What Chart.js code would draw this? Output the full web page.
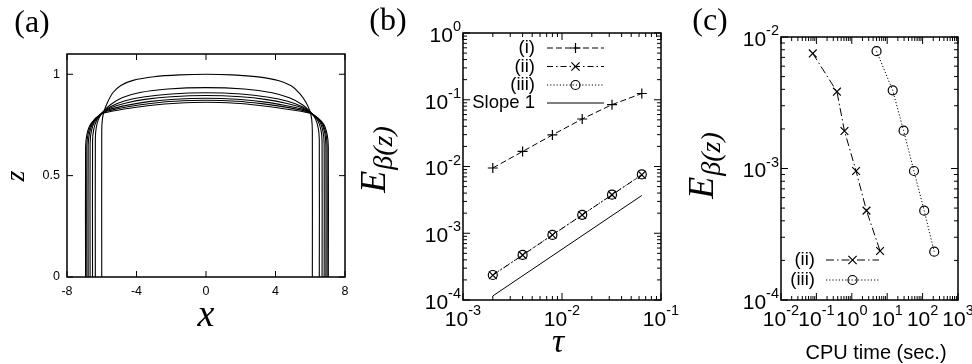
<!DOCTYPE html>
<html>
<head>
<meta charset="utf-8">
<script src="https://cdn.jsdelivr.net/npm/chart.js@4.4.0/dist/chart.umd.min.js"></script>
<style>
body{margin:0;background:#fff;}
#wrap{position:relative;width:972px;height:364px;}
canvas{position:absolute;left:0;top:0;}
</style>
</head>
<body>
<div id="wrap">
<canvas id="pa" width="972" height="364"></canvas>
<canvas id="pb" width="972" height="364"></canvas>
<canvas id="pc" width="972" height="364"></canvas>
</div>
<script>
// (a) interface profiles, [x, z] pairs
const prof1 = [[-6.0,0],[-6.0,0.72],[-5.96,0.78],[-5.86,0.82],[-5.65,0.865],[-5.35,0.91],[-4.9,0.945],[-4.2,0.97],[-3,0.988],[-1.5,0.997],[0,1.0],[1.5,0.997],[3,0.987],[4.2,0.968],[4.9,0.943],[5.4,0.905],[5.75,0.862],[5.97,0.82],[6.08,0.78],[6.12,0.72],[6.12,0]]
const prof2 = [[-6.37,0],[-6.37,0.68],[-6.32,0.735],[-6.18,0.78],[-5.92,0.815],[-5.5,0.85],[-4.8,0.885],[-3.8,0.91],[-2.2,0.927],[0,0.934],[2.2,0.927],[3.8,0.909],[4.8,0.884],[5.55,0.85],[6.0,0.815],[6.3,0.78],[6.46,0.735],[6.52,0.68],[6.52,0]]
const prof3 = [[-6.53,0],[-6.53,0.67],[-6.47,0.725],[-6.3,0.772],[-5.95,0.812],[-5.5,0.84],[-4.7,0.868],[-3.6,0.888],[-2,0.903],[0,0.909],[2,0.903],[3.6,0.887],[4.7,0.867],[5.55,0.84],[6.02,0.812],[6.43,0.772],[6.62,0.725],[6.68,0.67],[6.68,0]]
const prof4 = [[-6.67,0],[-6.67,0.66],[-6.6,0.718],[-6.4,0.768],[-5.97,0.81],[-5.5,0.834],[-4.6,0.858],[-3.5,0.876],[-2,0.889],[0,0.895],[2,0.889],[3.5,0.875],[4.6,0.857],[5.55,0.834],[6.04,0.81],[6.53,0.768],[6.73,0.718],[6.8,0.66],[6.8,0]]
const prof5 = [[-6.78,0],[-6.78,0.65],[-6.7,0.712],[-6.48,0.764],[-6.0,0.808],[-5.5,0.828],[-4.5,0.848],[-3.3,0.865],[-1.8,0.877],[0,0.882],[1.8,0.877],[3.3,0.864],[4.5,0.847],[5.55,0.828],[6.06,0.808],[6.61,0.764],[6.83,0.712],[6.9,0.65],[6.9,0]]
const prof6 = [[-6.86,0],[-6.86,0.645],[-6.78,0.708],[-6.55,0.76],[-6.02,0.806],[-5.5,0.822],[-4.5,0.84],[-3.2,0.856],[-1.8,0.867],[0,0.872],[1.8,0.867],[3.2,0.855],[4.5,0.839],[5.55,0.822],[6.08,0.806],[6.68,0.76],[6.9,0.708],[6.97,0.645],[6.97,0]]
const prof7 = [[-6.93,0],[-6.93,0.64],[-6.85,0.705],[-6.62,0.757],[-6.04,0.804],[-5.5,0.816],[-4.4,0.832],[-3.1,0.847],[-1.7,0.857],[0,0.862],[1.7,0.857],[3.1,0.846],[4.4,0.831],[5.55,0.816],[6.1,0.804],[6.75,0.757],[6.97,0.705],[7.04,0.64],[7.04,0]]
const profiles = [prof1, prof2, prof3, prof4, prof5, prof6, prof7]
const aXTicks = [-8, -4, 0, 4, 8]
const aYTicks = [0, 0.5, 1]

// (b) error against time step
const tau = [0.002, 0.004, 0.008, 0.016, 0.032, 0.064]
const errI = [0.0095, 0.0168, 0.0297, 0.0515, 0.0845, 0.124]
const errII = [0.000235, 0.00047, 0.00094, 0.00188, 0.00376, 0.0075]
const errIII = [0.000237, 0.000473, 0.000945, 0.00189, 0.00378, 0.0076]
const slopeX = [0.002, 0.064]
const slopeY = [0.000115, 0.00368]
const bLabels = ['(i)', '(ii)', '(iii)', 'Slope 1']

// (c) error against cpu time (largest tau first)
const cpuII = [0.079, 0.38, 0.62, 1.32, 2.6, 6.3]
const cpuIII = [5.0, 14.3, 29, 57, 111, 213]
const cErrII = [0.0075, 0.00384, 0.00193, 0.000957, 0.000478, 0.000236]
const cErrIII = [0.0078, 0.00393, 0.00194, 0.000957, 0.000478, 0.000233]
const cLabels = ['(ii)', '(iii)']

const SANS = '"Liberation Sans", Arial, sans-serif'
const SERIF = '"Liberation Serif", "Times New Roman", serif'

function pts(xs, ys) { return xs.map((x, i) => ({x: x, y: ys[i]})) }

function logMinor(a, b) {
	let out = []
	for (let d = a; d < b; d++)
		for (let m = 2; m < 10; m++) out.push(m * Math.pow(10, d))
	return out
}
function decades(a, b) {
	let out = []
	for (let d = a; d <= b; d++) out.push(Math.pow(10, d))
	return out
}

// frame plus inward ticks on all four sides (gnuplot look)
function frame(chart, xs, ys, xm, ym, len, mlen) {
	const ctx = chart.ctx, a = chart.chartArea
	const sx = chart.scales.x, sy = chart.scales.y
	ctx.save()
	ctx.strokeStyle = '#000'
	ctx.lineWidth = 1
	ctx.beginPath()
	const xt = (list, l) => list.forEach(v => {
		const p = sx.getPixelForValue(v)
		ctx.moveTo(p, a.bottom); ctx.lineTo(p, a.bottom - l)
		ctx.moveTo(p, a.top); ctx.lineTo(p, a.top + l)
	})
	const yt = (list, l) => list.forEach(v => {
		const p = sy.getPixelForValue(v)
		ctx.moveTo(a.left, p); ctx.lineTo(a.left + l, p)
		ctx.moveTo(a.right, p); ctx.lineTo(a.right - l, p)
	})
	xt(xs, len); yt(ys, len); xt(xm, mlen); yt(ym, mlen)
	ctx.stroke()
	ctx.lineWidth = 1.5
	ctx.strokeRect(a.left, a.top, a.right - a.left, a.bottom - a.top)
	ctx.restore()
}

// "10" with a raised exponent
function powText(ctx, v, x, y, align) {
	const e = String(Math.round(Math.log10(v)))
	ctx.save()
	ctx.fillStyle = '#000'
	ctx.textBaseline = 'middle'
	ctx.textAlign = 'left'
	ctx.font = '21px ' + SANS
	const w1 = ctx.measureText('10').width
	ctx.font = '14.5px ' + SANS
	const w2 = ctx.measureText(e).width
	let x0 = align === 'right' ? x - w1 - w2 : x - (w1 + w2) / 2
	ctx.font = '21px ' + SANS
	ctx.fillText('10', x0, y + 3)
	ctx.font = '14.5px ' + SANS
	ctx.fillText(e, x0 + w1, y - 6)
	ctx.restore()
}

function text(ctx, s, x, y, font, align) {
	ctx.save()
	ctx.fillStyle = '#000'
	ctx.font = font
	ctx.textAlign = align || 'center'
	ctx.textBaseline = 'middle'
	ctx.fillText(s, x, y)
	ctx.restore()
}

// E_beta(z), rotated
function ebTitle(ctx, x, y) {
	ctx.save()
	ctx.translate(x, y)
	ctx.rotate(-Math.PI / 2)
	ctx.fillStyle = '#000'
	ctx.textBaseline = 'alphabetic'
	ctx.font = 'italic 36px ' + SERIF
	const w1 = ctx.measureText('E').width
	ctx.font = 'italic 28px ' + SERIF
	const w2 = ctx.measureText('β(z)').width
	const x0 = -(w1 + w2) / 2
	ctx.font = 'italic 36px ' + SERIF
	ctx.fillText('E', x0, 10)
	ctx.font = 'italic 28px ' + SERIF
	ctx.fillText('β(z)', x0 + w1 + 1, 17)
	ctx.restore()
}

function marker(ctx, style, x, y, r) {
	ctx.beginPath()
	if (style === 'cross') {
		ctx.moveTo(x - r, y); ctx.lineTo(x + r, y); ctx.moveTo(x, y - r); ctx.lineTo(x, y + r)
	} else if (style === 'crossRot') {
		const d = r * 0.75
		ctx.moveTo(x - d, y - d); ctx.lineTo(x + d, y + d); ctx.moveTo(x - d, y + d); ctx.lineTo(x + d, y - d)
	} else {
		ctx.arc(x, y, r, 0, Math.PI * 2)
	}
	ctx.stroke()
}

function legendRow(ctx, ds, label, y, tx, x0, x1) {
	text(ctx, label, tx, y, '18.5px ' + SANS, 'right')
	ctx.save()
	ctx.strokeStyle = '#000'
	ctx.lineWidth = ds.borderWidth
	ctx.setLineDash(ds.borderDash || [])
	ctx.beginPath(); ctx.moveTo(x0, y); ctx.lineTo(x1, y); ctx.stroke()
	ctx.setLineDash([])
	if (ds.pointRadius > 0) {
		ctx.lineWidth = ds.pointBorderWidth
		marker(ctx, ds.pointStyle, (x0 + x1) / 2, y, ds.pointRadius)
	}
	ctx.restore()
}

const lineI = {borderColor: '#000', borderWidth: 1, borderDash: [6, 3], pointStyle: 'cross', pointRadius: 5, pointBorderWidth: 1.2}
const lineII = {borderColor: '#000', borderWidth: 1, borderDash: [6, 3, 1.5, 3], pointStyle: 'crossRot', pointRadius: 5.5, pointBorderWidth: 1.2}
const lineIII = {borderColor: '#000', borderWidth: 1, borderDash: [1.2, 2], pointStyle: 'circle', pointRadius: 4.5, pointBorderWidth: 1.2}
const lineSlope = {borderColor: '#000', borderWidth: 1, pointRadius: 0}

function common(pad) {
	return {
		responsive: false,
		animation: false,
		layout: {padding: pad},
		plugins: {legend: {display: false}, tooltip: {enabled: false}},
		elements: {point: {pointBackgroundColor: 'rgba(0,0,0,0)', pointBorderColor: '#000'}}
	}
}

// panel (a)
new Chart(document.getElementById('pa'), {
	type: 'scatter',
	data: {
		datasets: profiles.map(p => ({
			data: p.map(q => ({x: q[0], y: q[1]})),
			showLine: true, borderColor: '#000', borderWidth: 1.1, pointRadius: 0, tension: 0.3
		}))
	},
	options: Object.assign(common({left: 67, top: 54, right: 627, bottom: 87}), {
		scales: {
			x: {type: 'linear', min: -8, max: 8, display: false},
			y: {type: 'linear', min: 0, max: 1.1, display: false}
		}
	}),
	plugins: [{
		id: 'decoA',
		afterDraw(chart) {
			const ctx = chart.ctx, a = chart.chartArea
			frame(chart, aXTicks, aYTicks, [], [], 6, 0)
			aXTicks.forEach(v => text(ctx, String(v), chart.scales.x.getPixelForValue(v), a.bottom + 15, '12.5px ' + SANS))
			aYTicks.forEach(v => text(ctx, String(v), a.left - 7, chart.scales.y.getPixelForValue(v), '12.5px ' + SANS, 'right'))
			text(ctx, '(a)', 32, 24, '32px ' + SERIF)
			text(ctx, 'x', 206, 316, 'italic 38px ' + SERIF)
			ctx.save()
			ctx.translate(17, 176)
			ctx.rotate(-Math.PI / 2)
			text(ctx, 'z', 0, 0, 'italic 28px ' + SERIF)
			ctx.restore()
		}
	}]
})

// panel (b)
const bSets = [
	Object.assign({data: pts(tau, errI), showLine: true}, lineI),
	Object.assign({data: pts(tau, errII), showLine: true}, lineII),
	Object.assign({data: pts(tau, errIII), showLine: true}, lineIII),
	Object.assign({data: pts(slopeX, slopeY), showLine: true}, lineSlope)
]
new Chart(document.getElementById('pb'), {
	type: 'scatter',
	data: {datasets: bSets},
	options: Object.assign(common({left: 463, top: 33, right: 311, bottom: 64}), {
		scales: {
			x: {type: 'logarithmic', min: 1e-3, max: 1e-1, display: false},
			y: {type: 'logarithmic', min: 1e-4, max: 1, display: false}
		}
	}),
	plugins: [{
		id: 'decoB',
		afterDraw(chart) {
			const ctx = chart.ctx, a = chart.chartArea
			const xs = decades(-3, -1), ys = decades(-4, 0)
			frame(chart, xs, ys, logMinor(-3, -1), logMinor(-4, 0), 7, 4)
			xs.forEach(v => powText(ctx, v, chart.scales.x.getPixelForValue(v), a.bottom + 17, 'center'))
			ys.forEach(v => powText(ctx, v, a.left - 2, chart.scales.y.getPixelForValue(v), 'right'))
			const rows = [48, 66.5, 85, 103]
			bSets.forEach((ds, i) => legendRow(ctx, ds, bLabels[i], rows[i], 535, 547, 604))
			text(ctx, '(b)', 388, 22, '32px ' + SERIF)
			text(ctx, 'τ', 558, 343, 'italic 34px ' + SERIF)
			ebTitle(ctx, 375, 160)
		}
	}]
})

// panel (c)
const cSets = [
	Object.assign({data: pts(cpuII, cErrII), showLine: true}, lineII, {borderDash: [8, 3, 1.5, 3]}),
	Object.assign({data: pts(cpuIII, cErrIII), showLine: true}, lineIII)
]
new Chart(document.getElementById('pc'), {
	type: 'scatter',
	data: {datasets: cSets},
	options: Object.assign(common({left: 781, top: 37, right: 14, bottom: 64}), {
		scales: {
			x: {type: 'logarithmic', min: 1e-2, max: 1e3, display: false},
			y: {type: 'logarithmic', min: 1e-4, max: 1e-2, display: false}
		}
	}),
	plugins: [{
		id: 'decoC',
		afterDraw(chart) {
			const ctx = chart.ctx, a = chart.chartArea
			const xs = decades(-2, 3), ys = decades(-4, -2)
			frame(chart, xs, ys, logMinor(-2, 3), logMinor(-4, -2), 7, 4)
			xs.forEach(v => powText(ctx, v, chart.scales.x.getPixelForValue(v), a.bottom + 17, 'center'))
			ys.forEach(v => powText(ctx, v, a.left - 2, chart.scales.y.getPixelForValue(v), 'right'))
			const rows = [260, 280]
			cSets.forEach((ds, i) => legendRow(ctx, ds, cLabels[i], rows[i], 815, 826, 879))
			text(ctx, '(c)', 710, 22, '32px ' + SERIF)
			text(ctx, 'CPU time (sec.)', 876, 353, '20px ' + SANS)
			ebTitle(ctx, 703, 166)
		}
	}]
})
</script>
</body>
</html>
